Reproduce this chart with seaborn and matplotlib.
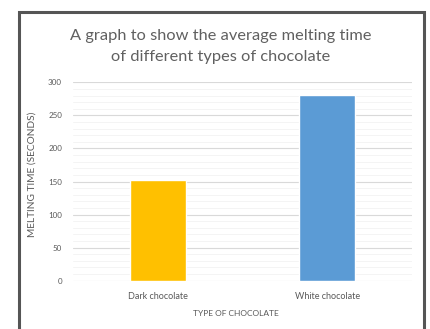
import matplotlib
matplotlib.use("Agg")
import matplotlib.pyplot as plt
from matplotlib.patches import Rectangle
from matplotlib.ticker import MultipleLocator
import seaborn as sns
import pandas as pd

categories = ["Dark chocolate", "White chocolate"]
melting_times = [153, 281]
bar_colors = ["#FFC000", "#5B9BD5"]
y_ticks = [0, 50, 100, 150, 200, 250, 300]

title = "A graph to show the average melting time\nof different types of chocolate"
x_label = "TYPE OF CHOCOLATE"
y_label = "MELTING TIME (SECONDS)"

sns.set_theme(style="white")
plt.rcParams["font.family"] = ["Lato", "DejaVu Sans"]
text_color = "#595959"

df = pd.DataFrame({"type": categories, "time": melting_times})

fig = plt.figure(figsize=(4.30, 3.29), dpi=100)
ax = fig.add_axes([0.170, 0.1468, 0.788, 0.603])

sns.barplot(data=df, x="type", y="time", hue="type", palette=bar_colors,
            width=0.33, saturation=1, legend=False, ax=ax, zorder=3)

ax.set_xlim(-0.5, 1.5)
ax.set_ylim(0, 300)
ax.set_yticks(y_ticks)
ax.yaxis.set_minor_locator(MultipleLocator(10))
ax.grid(axis="y", which="major", color="#D9D9D9", linewidth=0.8, zorder=0)
ax.grid(axis="y", which="minor", color="#F2F2F2", linewidth=0.6, zorder=0)
for s in ax.spines.values():
    s.set_visible(False)
ax.tick_params(axis="y", which="both", length=0, labelsize=5.8, colors=text_color, pad=8)
ax.tick_params(axis="x", length=0, labelsize=6.5, colors=text_color, pad=8)

ax.set_xlabel(x_label, fontsize=6, color=text_color, va="center")
ax.set_ylabel(y_label, fontsize=7.3, color=text_color, va="center")
ax.xaxis.set_label_coords(0.479, -0.163)
ax.yaxis.set_label_coords(-0.121, 0.538)

fig.text(0.514, 0.859, title, ha="center", va="center", fontsize=11.8,
         color="#606060", linespacing=1.62)

# outer chart border
fig.patches.append(Rectangle((19 / 430, -0.05), 405 / 430, 1.05 - 12 / 329,
                             transform=fig.transFigure, fill=False,
                             edgecolor="#555555", linewidth=2.2))

fig.savefig("out.png", dpi=100)
